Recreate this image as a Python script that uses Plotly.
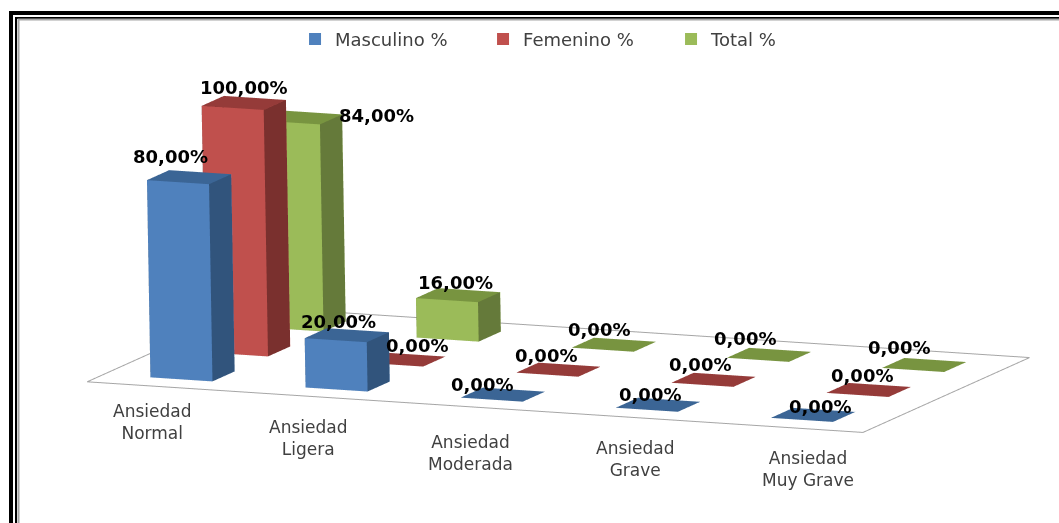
import plotly.graph_objects as go

W, H = 1059, 523
categories = ["Ansiedad<br>Normal", "Ansiedad<br>Ligera", "Ansiedad<br>Moderada", "Ansiedad<br>Grave", "Ansiedad<br>Muy Grave"]
masculino = [80, 20, 0, 0, 0]
femenino = [100, 0, 0, 0, 0]
total = [84, 16, 0, 0, 0]
series_names = ["Masculino %", "Femenino %", "Total %"]
series_values = [masculino, femenino, total]
front_colors = ["#4f81bd", "#c0504d", "#9bbb59"]
side_colors = ["#31547c", "#7a302e", "#657a3a"]
top_colors = ["#3b6595", "#953b39", "#789440"]

ax, ay, az = 3.236, 1.596, 0.960
ex, ey, ez = 1.126, -2.819, 0.525
cx, cy, cz = 0.0099, -0.279, -0.0071
ux, uy = 0.033, -0.033

def cuboid(cat, ser, value):
    x0, x1 = cat+0.3, cat+0.7
    y0, y1 = ser+0.3, ser+0.7
    xs=[x0,x1,x1,x0,x0,x1,x1,x0]; ys=[y0,y0,y1,y1,y0,y0,y1,y1]; zs=[0,0,0,0,value,value,value,value]
    tris=[(0,1,5),(0,5,4),(1,2,6),(1,6,5),(4,5,6),(4,6,7),(0,3,2),(0,2,1),(3,7,6),(3,6,2),(0,4,7),(0,7,3)]
    kinds=["f","f","s","s","t","t","t","t","f","f","s","s"]
    return xs,ys,zs,tris,kinds

fig = go.Figure()
nfloor = len(categories); nser = len(series_values)
fx=[0,nfloor,nfloor,0,0]; fy=[0,0,nser,nser,0]
fig.add_trace(go.Scatter3d(x=fx,y=fy,z=[0]*5,mode="lines",line=dict(color="#a6a6a6",width=2),showlegend=False,hoverinfo="skip"))
annos=[]
label_off = {(0,0):(-19,21),(0,1):(0,15),(0,2):(76,2),
             (1,0):(-8,14),(1,1):(14,14),(1,2):(-3,13),
             (2,0):(-21,10),(2,1):(-12,14),(2,2):(-15,15),
             (3,0):(-8,10),(3,1):(-14,15),(3,2):(-24,16),
             (4,0):(7,8),(4,1):(-7,14),(4,2):(-25,17)}
for s,vals in enumerate(series_values):
    X,Y,Z,I,J_,K,C=[],[],[],[],[],[],[]
    for c,v in enumerate(vals):
        xs,ys,zs,tris,kinds=cuboid(c,s,v)
        n=len(X); X+=xs;Y+=ys;Z+=zs
        for (a,b,d),k in zip(tris,kinds):
            I.append(a+n);J_.append(b+n);K.append(d+n)
            C.append({"f":front_colors[s],"s":side_colors[s],"t":top_colors[s]}[k])
        dx,dy=label_off[(c,s)]
        annos.append(dict(x=c+.5,y=s+.5,z=v,text=f"{v:.2f}%".replace(".",","),showarrow=False,xshift=dx,yshift=dy,
                          font=dict(family="DejaVu Sans",size=18,color="#000000",weight="bold")))
    fig.add_trace(go.Mesh3d(x=X,y=Y,z=Z,i=I,j=J_,k=K,facecolor=C,flatshading=True,showlegend=False,hoverinfo="skip",
        lighting=dict(ambient=1,diffuse=0,specular=0,fresnel=0,roughness=1)))
    fig.add_trace(go.Scatter3d(x=[None],y=[None],z=[None],mode="markers",name=series_names[s],
        marker=dict(symbol="square",size=9,color=front_colors[s])))
cat_off = [(-13,-35),(-12,-41),(-5,-46),(5,-42),(23,-42)]
for c,name in enumerate(categories):
    annos.append(dict(x=c+.5,y=0,z=0,text=name,showarrow=False,xshift=cat_off[c][0],yshift=cat_off[c][1],
                      font=dict(family="DejaVu Sans",size=17,color="#404040")))
hidden=dict(visible=False)
fig.update_layout(width=W,height=H,margin=dict(l=0,r=0,t=0,b=0),paper_bgcolor="white",
    scene=dict(domain=dict(x=[0,1],y=[0,1]),bgcolor="white",aspectmode="manual",aspectratio=dict(x=ax,y=ay,z=az),
        xaxis=dict(range=[0,nfloor],**hidden),yaxis=dict(range=[0,nser],**hidden),zaxis=dict(range=[0,100],**hidden),
        camera=dict(eye=dict(x=ex,y=ey,z=ez),center=dict(x=cx,y=cy,z=cz),up=dict(x=ux,y=uy,z=1),projection=dict(type="orthographic")),
        annotations=annos),
    legend=dict(orientation="h",x=0.2786,xanchor="left",y=0.925,yanchor="middle",bgcolor="rgba(0,0,0,0)",
                entrywidth=143,entrywidthmode="pixels",font=dict(family="DejaVu Sans",size=18,color="#404040"),itemsizing="constant"),
    shapes=[dict(type="rect",xref="paper",yref="paper",x0=11/W,x1=1080/W,y0=1-13/H,y1=-30/H,line=dict(color="black",width=4),layer="above"),
            dict(type="rect",xref="paper",yref="paper",x0=16/W,x1=1080/W,y0=1-18/H,y1=-30/H,line=dict(color="black",width=2),layer="above"),
            dict(type="rect",xref="paper",yref="paper",x0=18.5/W,x1=1080/W,y0=1-19.5/H,y1=-30/H,line=dict(color="#a6a6a6",width=2),layer="above")])
fig.write_html("out.html",config=dict(displayModeBar=False),post_script="document.body.style.margin='0';")
